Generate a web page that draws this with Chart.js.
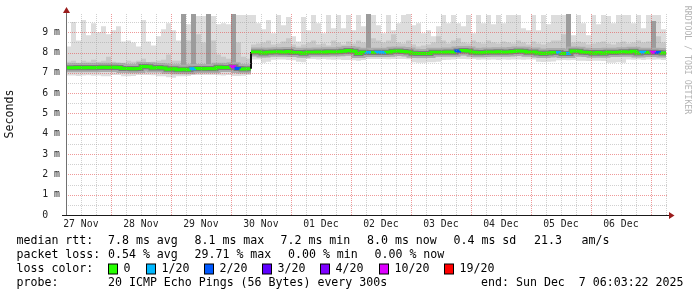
<!DOCTYPE html>
<html><head><meta charset="utf-8">
<script src="https://cdn.jsdelivr.net/npm/chart.js@4/dist/chart.umd.min.js"></script>
<style>html,body{margin:0;padding:0;background:#fff;overflow:hidden}canvas{display:block}</style>
</head><body>
<canvas id="c" width="697" height="297" style="width:697px;height:297px"></canvas>
<script>
// ---- data (2-hour bins starting Nov 27 06:03:22, 10 days) ----
const binHours = 2;
const dayLabels = ['27 Nov','28 Nov','29 Nov','30 Nov','01 Dec','02 Dec','03 Dec','04 Dec','05 Dec','06 Dec'];
const firstNoonOffset = 5.944; // hours from start to Nov 27 12:00

const medianRtt = [7.25,7.25,7.27,7.25,7.27,7.25,7.26,7.28,7.27,7.28,7.27,7.21,7.22,7.2,7.22,7.31,7.3,7.24,7.26,7.24,7.18,7.2,7.16,7.18,7.16,7.2,7.22,7.2,7.22,7.2,7.28,7.27,7.26,7.3,7.22,7.19,7.2,
 8.03,8.03,7.98,8.02,8.03,8.04,8.02,8.05,8.0,8.0,7.97,8.02,8.02,8.03,8.02,8.04,8.03,8.04,8.07,8.1,8.06,7.95,8.02,
 8.0,8.0,8.01,8.0,8.02,8.07,8.08,8.05,8.03,7.97,7.95,7.95,7.96,8.02,8.02,8.01,8.03,8.02,8.08,8.1,8.08,8.02,7.99,8.0,8.03,8.02,8.04,8.02,8.03,8.05,
 8.08,8.06,8.02,8.03,7.98,7.96,7.98,8.0,8.0,7.96,7.96,8.08,8.06,8.02,8.0,7.97,8.0,7.97,8.02,8.0,8.02,8.04,8.02,8.06,7.98,8.02,8.0,8.02,8.0,7.98];

const smokeMax = [8.3,9.5,8.6,9.6,8.85,9.45,9.0,9.3,8.9,9.1,9.3,8.55,8.6,8.5,8.3,9.6,8.55,8.35,8.8,9.15,9.45,9.1,8.6,9.2,9.4,9.3,9.8,9.8,9.8,9.8,9.4,9.45,9.4,9.5,9.85,9.85,9.85,
 9.85,9.45,9.15,9.6,8.95,9.85,9.35,9.75,8.8,8.55,9.75,9.1,9.85,9.45,8.95,9.85,9.2,9.85,9.2,9.85,9.1,9.85,9.3,
 9.85,9.85,9.35,8.95,9.85,9.1,9.45,9.85,9.9,9.35,9.45,8.95,9.1,8.8,9.3,9.85,9.45,9.85,9.45,9.3,9.85,8.95,9.85,9.45,9.85,9.4,9.85,9.45,9.85,9.85,
 9.85,9.2,9.1,9.85,9.1,9.85,9.4,9.85,9.85,9.85,9.85,8.85,9.85,9.45,8.85,9.85,9.4,9.85,9.8,9.45,9.85,9.85,9.85,9.45,9.85,9.2,9.85,9.85,9.85,9.15];

const smokeMin = [6.87,6.87,6.85,6.87,6.88,6.86,6.87,6.84,6.84,6.9,6.9,6.84,6.84,6.85,6.9,6.9,6.9,6.88,6.84,6.84,6.78,6.76,6.84,6.84,6.85,6.9,6.9,6.9,6.9,6.9,6.88,6.87,6.9,6.85,6.85,6.86,6.9,
 7.66,7.66,7.5,7.55,7.65,7.66,7.66,7.64,7.62,7.55,7.52,7.68,7.68,7.66,7.68,7.66,7.65,7.66,7.64,7.64,7.62,7.6,7.63,
 7.68,7.68,7.68,7.68,7.67,7.68,7.68,7.68,7.67,7.52,7.5,7.5,7.52,7.52,7.55,7.64,7.65,7.66,7.68,7.68,7.67,7.68,7.65,7.66,7.65,7.66,7.64,7.66,7.65,7.66,
 7.66,7.65,7.66,7.66,7.55,7.54,7.55,7.56,7.62,7.63,7.62,7.64,7.6,7.6,7.58,7.6,7.6,7.58,7.5,7.5,7.52,7.5,7.66,7.65,7.66,7.64,7.66,7.65,7.66,7.64];

const smokeUpper = [7.55,7.6,7.5,7.6,7.55,7.65,7.55,7.6,7.8,7.55,7.5,7.5,7.6,7.55,7.6,7.7,7.5,7.55,7.6,7.65,7.9,7.6,7.6,8.4,8.6,8.3,8.9,8.5,8.2,8.6,7.9,7.8,7.7,8.7,8.5,7.8,7.7,
 8.4,8.45,8.5,8.6,8.4,8.45,8.55,8.7,8.4,8.3,8.4,8.5,8.6,8.4,8.45,8.35,8.6,8.5,8.4,8.55,8.45,8.6,8.5,
 9.2,8.7,8.6,8.5,8.6,8.9,8.5,8.45,8.6,8.4,8.3,8.35,8.4,8.5,8.8,8.6,8.45,8.6,8.7,8.5,8.45,8.6,8.5,8.45,8.6,8.5,8.45,8.55,8.5,8.45,
 8.6,8.5,8.4,8.55,8.45,8.4,8.5,8.6,8.6,8.9,9.0,8.5,8.55,8.5,8.4,8.45,8.5,8.55,8.45,8.4,8.5,8.55,8.45,8.5,8.6,8.5,8.55,9.5,8.8,8.5];

const smokeLower = [7.08,7.08,7.06,7.08,7.1,7.07,7.08,7.06,7.06,7.1,7.1,7.04,7.05,7.04,7.08,7.1,7.1,7.08,7.06,7.06,7.02,7.0,7.0,7.02,7.0,7.05,7.06,7.05,7.06,7.05,7.08,7.08,7.08,7.06,7.04,7.02,7.05,
 7.85,7.85,7.75,7.8,7.85,7.85,7.85,7.84,7.8,7.78,7.75,7.82,7.84,7.84,7.85,7.84,7.84,7.85,7.86,7.86,7.85,7.75,7.82,
 7.82,7.82,7.82,7.82,7.84,7.86,7.86,7.85,7.82,7.74,7.72,7.72,7.74,7.78,7.82,7.82,7.84,7.82,7.84,7.86,7.86,7.82,7.8,7.8,7.82,7.82,7.84,7.82,7.82,7.84,
 7.86,7.85,7.82,7.82,7.76,7.75,7.76,7.8,7.8,7.76,7.76,7.85,7.84,7.82,7.8,7.76,7.8,7.76,7.8,7.78,7.82,7.82,7.82,7.84,7.76,7.8,7.8,7.8,7.8,7.76];

const spikeBins = [23,25,28,33,60,100,117];
const spikeTops = [9.9,9.9,9.9,9.9,9.9,9.9,9.55];

const lossBins = [25,33,34,60,62,63,78,98,100,115,117,118];
const lossLevels = [1,10,2,1,1,1,2,1,1,1,10,2];

const lossLegend = ['0','1/20','2/20','3/20','4/20','10/20','19/20'];
const lossLegendLevels = [0,1,2,3,4,10,19];
const lossPalette = {0:'#26ff00',1:'#00b8ff',2:'#0059ff',3:'#5e00ff',4:'#7e00ff',10:'#dd00ff',19:'#ff0000'};

const rttStats = ['7.8 ms avg','8.1 ms max','7.2 ms min','8.0 ms now','0.4 ms sd','21.3','am/s'];
const lossStats = ['0.54 % avg','29.71 % max','0.00 % min','0.00 % now'];
const probeText = '20 ICMP Echo Pings (56 Bytes) every 300s';
const endText = 'end: Sun Dec  7 06:03:22 2025';

// ---- derived structures ----
const nBins = medianRtt.length;
const totalHours = nBins * binHours;
const lossPerBin = medianRtt.map((_, i) => { const k = lossBins.indexOf(i); return k < 0 ? 0 : lossLevels[k]; });
const spikeSeries = medianRtt.map((m, i) => { const k = spikeBins.indexOf(i); return k < 0 ? m : spikeTops[k]; });

function stepData(arr) {
  return arr.map((v, i) => ({x: i * binHours, y: v})).concat([{x: totalHours, y: arr[arr.length - 1]}]);
}
function pairData(arr) {
  const out = [];
  arr.forEach((v, i) => { out.push({x: i * binHours, y: v}); out.push({x: (i + 1) * binHours, y: v}); });
  return out;
}
function bigJump(idx) {
  const i = (idx - 1) / 2;
  return Math.abs(medianRtt[i + 1] - medianRtt[i]) > 0.25;
}
function lossColorSeg(ctx) {
  const a = ctx.p0DataIndex;
  if (a % 2 === 0) return lossPalette[lossPerBin[a / 2]];
  if (bigJump(a)) return '#111111';
  return lossPalette[lossPerBin[(a + 1) / 2]];
}
function lossWidthSeg(ctx) {
  const a = ctx.p0DataIndex;
  return (a % 2 === 1 && bigJump(a)) ? 2 : 3;
}
function graySeg(col) {
  return ctx => { const a = ctx.p0DataIndex; return (a % 2 === 1 && bigJump(a)) ? 'rgba(0,0,0,0)' : col; };
}

const xGridHours = [];
for (let h = firstNoonOffset; h < totalHours; h += 6) xGridHours.push(h);
const yGridValues = [];
for (let v = 0.5; v < 9.9; v += 0.5) yGridValues.push(Math.round(v * 2) / 2);

const MONO = '"DejaVu Sans Mono", "Liberation Mono", monospace';
const RED_GRID = 'rgba(225,70,70,0.55)';
const GRAY_GRID = 'rgba(150,150,150,0.45)';

const hidden = {pointRadius: 0, pointHoverRadius: 0, borderWidth: 0, borderColor: 'rgba(0,0,0,0)', fill: false, stepped: 'before'};

const dottedGrid = {
  id: 'dottedGrid',
  afterDatasetsDraw(chart) {
    const c = chart.ctx, a = chart.chartArea, xs = chart.scales.x, ys = chart.scales.y;
    c.save();
    c.lineWidth = 1;
    c.setLineDash([1, 1]);
    yGridValues.forEach(v => {
      const y = Math.round(ys.getPixelForValue(v)) + 0.5;
      c.strokeStyle = Number.isInteger(v) ? RED_GRID : GRAY_GRID;
      c.beginPath(); c.moveTo(a.left, y); c.lineTo(a.right + 2, y); c.stroke();
    });
    xGridHours.forEach((h, i) => {
      const x = Math.round(xs.getPixelForValue(h)) + 0.5;
      c.strokeStyle = (i % 4 === 2) ? RED_GRID : GRAY_GRID;
      c.beginPath(); c.moveTo(x, a.top); c.lineTo(x, a.bottom); c.stroke();
    });
    c.restore();
  }
};

const decor = {
  id: 'decor',
  afterDraw(chart) {
    const c = chart.ctx, a = chart.chartArea;
    c.save();
    c.lineWidth = 1;
    c.strokeStyle = '#707070';
    c.beginPath(); c.moveTo(a.left + 0.5, a.top - 3); c.lineTo(a.left + 0.5, a.bottom + 0.5); c.stroke();
    c.strokeStyle = '#1a1a1a';
    c.beginPath(); c.moveTo(a.left - 4, a.bottom + 0.5); c.lineTo(a.right + 4, a.bottom + 0.5); c.stroke();
    c.fillStyle = '#9a1c1c';
    c.beginPath(); c.moveTo(a.left + 0.5, a.top - 7); c.lineTo(a.left - 3, a.top - 1); c.lineTo(a.left + 4, a.top - 1); c.closePath(); c.fill();
    c.beginPath(); c.moveTo(a.right + 8.5, a.bottom + 0.5); c.lineTo(a.right + 3, a.bottom - 3); c.lineTo(a.right + 3, a.bottom + 4); c.closePath(); c.fill();

    c.fillStyle = '#111';
    c.font = '11.6px ' + MONO;
    c.textAlign = 'center'; c.textBaseline = 'middle';
    c.save(); c.translate(10, 114); c.rotate(-Math.PI / 2); c.fillText('Seconds', 0, 0); c.restore();

    c.save(); c.translate(687, 60); c.rotate(Math.PI / 2);
    c.fillStyle = '#b4b4b4'; c.font = '8.2px ' + MONO; c.fillText('RRDTOOL / TOBI OETIKER', 0, 0); c.restore();

    c.fillStyle = '#000';
    c.font = '11.6px ' + MONO;
    c.textAlign = 'left'; c.textBaseline = 'middle';
    const r1 = 241, r2 = 255, r3 = 269, r4 = 283;
    c.fillText('median rtt:', 16.5, r1);
    const rttX = [108, 194.5, 280.5, 367, 453.5, 534, 581.5];
    rttStats.forEach((t, i) => c.fillText(t, rttX[i], r1));
    c.fillText('packet loss:', 16.5, r2);
    const lossX = [108, 194.5, 288, 374.5];
    lossStats.forEach((t, i) => c.fillText(t, lossX[i], r2));
    c.fillText('loss color:', 16.5, r3);
    const boxX = [108.5, 146.5, 204.5, 262.5, 320.5, 379.5, 444.5];
    lossLegend.forEach((t, i) => {
      c.fillStyle = lossPalette[lossLegendLevels[i]];
      c.fillRect(boxX[i], r3 - 5, 9, 10);
      c.strokeStyle = '#000'; c.lineWidth = 1;
      c.strokeRect(boxX[i], r3 - 5, 9, 10);
      c.fillStyle = '#000';
      c.fillText(t, boxX[i] + 15, r3);
    });
    c.fillText('probe:', 16.5, r4);
    c.fillText(probeText, 108, r4);
    c.textAlign = 'right';
    c.fillText(endText, 683.5, r4);
    c.restore();
  }
};

new Chart(document.getElementById('c'), {
  type: 'line',
  data: {
    datasets: [
      {data: pairData(medianRtt), pointRadius: 0, borderWidth: 3, borderColor: '#26ff00', fill: false,
       borderCapStyle: 'butt', borderJoinStyle: 'miter',
       segment: {borderColor: lossColorSeg, borderWidth: lossWidthSeg}},
      {data: pairData(medianRtt), pointRadius: 0, borderWidth: 5, borderColor: '#7c7c7c', fill: false,
       segment: {borderColor: graySeg('#7c7c7c')}},
      {data: pairData(medianRtt), pointRadius: 0, borderWidth: 9, borderColor: '#acacac', fill: false,
       segment: {borderColor: graySeg('#acacac')}},
      Object.assign({}, hidden, {data: stepData(spikeSeries), fill: {target: 4}, backgroundColor: '#9c9c9c'}),
      Object.assign({}, hidden, {data: stepData(medianRtt)}),
      Object.assign({}, hidden, {data: stepData(smokeUpper), fill: {target: 6}, backgroundColor: '#c8c8c8'}),
      Object.assign({}, hidden, {data: stepData(smokeLower)}),
      Object.assign({}, hidden, {data: stepData(smokeMax), fill: {target: 8}, backgroundColor: '#dddddd'}),
      Object.assign({}, hidden, {data: stepData(smokeMin)})
    ]
  },
  options: {
    responsive: false,
    animation: false,
    devicePixelRatio: 1,
    events: [],
    layout: {padding: {left: 0, right: 31, top: 14, bottom: 0}},
    plugins: {legend: {display: false}, tooltip: {enabled: false}},
    scales: {
      x: {
        type: 'linear', min: 0, max: totalHours,
        afterBuildTicks: s => { s.ticks = xGridHours.map(v => ({value: v})); },
        afterFit: s => { s.height = 82; },
        grid: {display: true, drawOnChartArea: false, drawTicks: false},
        border: {display: false},
        ticks: {autoSkip: false, maxRotation: 0, padding: 4, color: '#222',
                font: {family: MONO, size: 9.8},
                callback: (v, i) => (i % 4 === 0 ? dayLabels[i / 4] : '')}
      },
      y: {
        type: 'linear', min: 0, max: 9.9,
        ticks: {stepSize: 0.5, padding: 6, color: '#222', font: {family: MONO, size: 9.8},
                callback: v => {
                  if (Math.abs(v - Math.round(v)) > 1e-6) return '';
                  const n = Math.round(v);
                  return n === 0 ? '0  ' : n + ' m';
                }},
        afterBuildTicks: s => { s.ticks = s.ticks.filter(t => Math.abs(t.value * 2 - Math.round(t.value * 2)) < 1e-6 && t.value < 9.9); },
        afterFit: s => { s.width = 66; },
        grid: {display: true, drawOnChartArea: false, drawTicks: false},
        border: {display: false}
      }
    }
  },
  plugins: [dottedGrid, decor]
});
</script>
</body></html>
